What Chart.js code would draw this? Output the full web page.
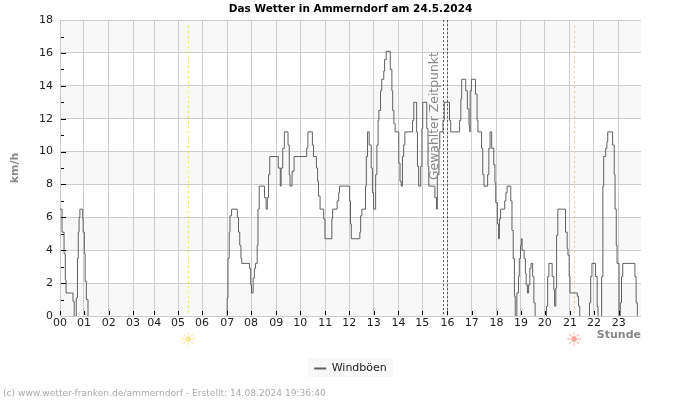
<!DOCTYPE html>
<html><head><meta charset="utf-8">
<script src="https://cdn.jsdelivr.net/npm/chart.js@4"></script>
<style>html,body{margin:0;padding:0;background:#fff}canvas{display:block}</style>
</head><body><canvas id="c" width="700" height="400"></canvas>
<script>
const minutes=[0,5,10,13,15,32,35,39,40,43,45,47,49,56,57,60,62,65,69,411,
412,414,417,419,423,437,440,443,446,448,467,470,472,476,479,482,486,488,491,504,508,511,514,517,538,543,545,549,553,562,565,567,572,577,608,611,622,625,632,635,637,641,650,653,670,672,683,687,689,714,716,718,739,741,744,753,755,758,762,767,770,773,778,781,784,786,790,793,798,800,804,814,818,820,823,826,835,838,841,844,847,850,869,872,879,881,884,889,892,894,904,907,909,924,928,
930,934,936,944,947,960,963,985,988,990,1000,1004,1008,1010,1011,1014,1024,1028,1030,1039,1042,1045,1054,1057,1060,1064,1069,1072,1074,1078,1081,1083,1086,1096,1099,1102,1111,1114,1117,1120,1122,1125,1126,1130,1132,1135,1137,1139,1144,1147,1149,1152,1155,1158,1161,1165,1168,1171,1198,1199,1202,1205,1213,1217,1219,1222,1224,1227,1246,1250,1252,1255,1257,1275,1278,1281,1304,1305,1308,1311,1320,1324,1326,1334,1335,1338,1340,1345,1348,1350,1362,1366,1368,1371,1373,1378,1380,1381,1384,1387,1417,1420,1423];
const gusts=[6.5,5.1,3.8,2.2,1.4,0.9,0,0,1.1,3.5,5.1,6.0,6.5,5.9,5.1,3.8,2.1,1.0,0,0,
1.1,3.5,5.1,6.1,6.5,6.0,5.1,4.3,3.5,3.2,2.9,1.9,1.4,2.3,2.9,3.2,4.3,6.5,7.9,7.2,6.5,7.2,8.6,9.7,9.0,7.9,9.0,10.2,11.2,10.4,8.6,7.9,8.8,9.7,10.2,11.2,10.4,9.7,9.0,8.2,7.3,6.5,5.9,4.7,5.9,6.5,7.0,7.5,7.9,7.0,5.6,4.7,5.1,6.1,6.5,7.9,9.7,11.2,10.4,9.0,7.5,6.5,8.6,10.4,11.9,12.5,13.7,14.4,14.9,15.6,16.1,15.0,13.7,12.5,11.7,11.2,9.3,8.2,7.9,9.7,10.4,11.2,11.9,13.0,11.2,9.1,7.9,9.1,11.4,13.0,11.4,9.1,7.9,7.2,6.5,
8.6,10.2,11.2,11.9,13.0,11.9,11.2,11.9,13.2,14.4,13.7,12.6,11.6,11.2,13.7,14.4,13.5,11.9,11.2,10.2,8.6,7.9,8.6,10.2,11.2,10.2,9.2,8.1,6.9,5.6,4.7,5.9,6.5,7.0,7.5,7.9,7.0,5.2,3.5,1.2,0,0,1.4,2.4,3.5,4.3,4.7,4.0,3.5,2.6,1.9,1.4,1.9,2.9,3.2,2.4,0.8,0,0,0.6,2.4,3.2,2.4,1.6,0.6,1.7,4.9,6.5,5.1,4.1,3.7,2.4,1.4,1.2,0.6,0,0,0.8,2.4,3.2,2.4,0.6,0,0,2.4,7.9,9.7,10.2,10.6,11.2,10.4,8.6,6.5,4.3,3.2,0,0,0.8,2.4,3.2,2.4,0.8,0];
const hourTicks=[0,59,120,180,232,291,350,412,471,533,592,654,713,773,834,893,955,1015,1076,1136,1195,1257,1316,1377];
const hourLabels=['00','01','02','03','04','05','06','07','08','09','10','11','12','13','14','15','16','17','18','19','20','21','22','23'];
const sunrise=316, sunset=1267, selectedA=945, selectedB=955;
const FONT='"DejaVu Sans"';

const deco={id:'deco',
 afterLayout(ch){
  for(const b of [ch.titleBlock,ch.legend]){b.left+=30;b.right+=30;}
 },
 beforeDatasetsDraw(ch){
  const {ctx,chartArea:a,scales:{x,y}}=ch;
  ctx.save();
  const vline=(v,col)=>{const p=Math.round(x.getPixelForValue(v))+.5;ctx.strokeStyle=col;ctx.setLineDash([2,3]);ctx.lineWidth=1;ctx.beginPath();ctx.moveTo(p,a.top+6);ctx.lineTo(p,a.bottom);ctx.stroke();};
  vline(sunrise,'#f5ee40');vline(sunset,'#f2c28a');
  ctx.setLineDash([]);
  ctx.restore();
 },
 afterDatasetsDraw(ch){
  const {ctx,chartArea:a,scales:{x,y}}=ch;
  ctx.save();
  ctx.strokeStyle='#555';ctx.lineWidth=1;ctx.setLineDash([2,2]);
  for(const v of [selectedA,selectedB]){const p=Math.round(x.getPixelForValue(v))+.5;ctx.beginPath();ctx.moveTo(p,a.top);ctx.lineTo(p,a.bottom);ctx.stroke();}
  ctx.setLineDash([]);
  ctx.strokeStyle='#000';
  for(let v=1;v<18;v++){const p=Math.round(y.getPixelForValue(v))+.5;ctx.beginPath();ctx.moveTo(a.left+1,p);ctx.lineTo(a.left+(v%2?4:6),p);ctx.stroke();}
  for(const t of hourTicks){const p=Math.round(x.getPixelForValue(t))+.5;ctx.beginPath();ctx.moveTo(p,a.bottom-1);ctx.lineTo(p,a.bottom-5);ctx.stroke();}
  ctx.translate(Math.round(x.getPixelForValue(selectedA))-8,a.top+96);
  ctx.rotate(-Math.PI/2);ctx.fillStyle='#888';ctx.font='12.4px '+FONT;ctx.textAlign='center';ctx.textBaseline='middle';
  ctx.fillText('Gewählter Zeitpunkt',0,0);
  ctx.restore();
 },
 beforeDraw(ch){
  const {ctx,chartArea:a,scales:{y}}=ch;
  ctx.save();
  ctx.fillStyle='#f8f8f8';
  for(let v=0;v<18;v+=4){const t=y.getPixelForValue(v+2),b=y.getPixelForValue(v);ctx.fillRect(a.left,t,a.width,b-t);}
  ctx.fillRect(308,358,85,19);
  ctx.restore();
 },
 afterDraw(ch){
  const {ctx,scales:{x}}=ch;
  ctx.save();
  ctx.textAlign='center';ctx.textBaseline='middle';ctx.font='19px '+FONT;
  ctx.fillStyle='#fbe79a';ctx.fillText('☀',x.getPixelForValue(sunrise),341);
  ctx.fillStyle='#f9a898';ctx.fillText('☀',x.getPixelForValue(sunset),341);
  ctx.textAlign='left';ctx.font='9.1px '+FONT;ctx.fillStyle='#aaa';
  ctx.fillText('(c) www.wetter-franken.de/ammerndorf - Erstellt: 14.08.2024 19:36:40',3,394);
  ctx.restore();
 }};

new Chart(document.getElementById('c'),{
 type:'line',
 data:{datasets:[{label:'Windböen',data:minutes.map((m,i)=>({x:m,y:gusts[i]})),borderColor:'#606060',backgroundColor:'#606060',borderWidth:1,pointRadius:0,stepped:true,
   segment:{borderColor:c=>(c.p0.parsed.y===0&&c.p1.parsed.y===0)?'transparent':undefined}}]},
 plugins:[deco],
 options:{responsive:false,animation:false,devicePixelRatio:1,
  layout:{padding:{top:0,right:59,bottom:16,left:0}},
  plugins:{
   title:{display:true,text:'Das Wetter in Ammerndorf am 24.5.2024',color:'#000',font:{family:FONT,size:10.5,weight:'bold'},padding:{top:3,bottom:4.5}},
   legend:{position:'bottom',labels:{font:{family:FONT,size:11},color:'#222',usePointStyle:true,pointStyle:'line',pointStyleWidth:12,boxHeight:2,padding:4,
     generateLabels(ch){const l=Chart.defaults.plugins.legend.labels.generateLabels(ch);l[0].lineWidth=2;return l;}}},
   tooltip:{enabled:false}},
  scales:{
   x:{type:'linear',min:0,max:1432,
    afterBuildTicks(s){s.ticks=hourTicks.map(v=>({value:v}));},
    afterFit(s){s.height=43;},
    ticks:{autoSkip:false,maxRotation:0,padding:1,color:'#222',font:{family:FONT,size:11},
      callback(v){return hourLabels[hourTicks.indexOf(v)];}},
    grid:{color:'#ccc',drawTicks:false},border:{display:false},
    title:{display:true,text:'Stunde',align:'end',color:'#888',font:{family:FONT,size:11,weight:'bold'},padding:{top:0,bottom:17}}},
   y:{min:0,max:18,
    afterFit(s){s.width=60;},
    ticks:{stepSize:2,padding:7,color:'#222',font:{family:FONT,size:11}},
    grid:{color:'#ccc',drawTicks:false},border:{display:false},
    title:{display:true,text:'km/h',color:'#888',font:{family:FONT,size:11,weight:'bold'},padding:{top:9,bottom:0}}}
  }}
});
</script></body></html>
